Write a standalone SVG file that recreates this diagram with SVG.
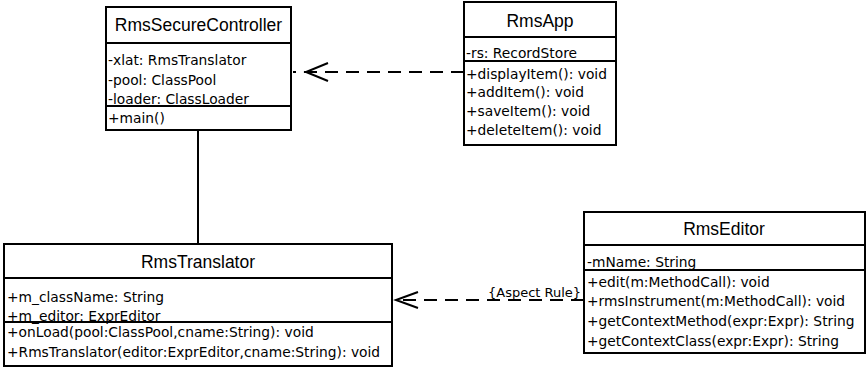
<svg xmlns="http://www.w3.org/2000/svg" width="866" height="369" viewBox="0 0 866 369">
<style>
.box{fill:#fff;stroke:#000;stroke-width:2}
.div{stroke:#000;stroke-width:2}
.title{font-family:"Liberation Sans",Arial,sans-serif;font-size:17.5px;text-anchor:middle;fill:#000}
.mem{font-family:"DejaVu Sans",sans-serif;font-size:13.8px;fill:#000}
.lbl{font-family:"DejaVu Sans",sans-serif;font-size:13px;fill:#000}
.dash{fill:none;stroke:#000;stroke-width:2;stroke-dasharray:13 8}
.solid{fill:none;stroke:#000;stroke-width:2}
.head{fill:none;stroke:#000;stroke-width:2}
</style>
<g id="connectors">
<line class="solid" x1="198" y1="130" x2="198" y2="244"/>
<line class="dash" x1="464" y1="72" x2="293" y2="72"/>
<polyline class="head" points="328,63 306,72 328,81"/>
<line class="dash" x1="584" y1="300" x2="395" y2="300"/>
<polyline class="head" points="418,292 396,300 418,308"/>
<text class="lbl" x="488" y="297">{Aspect Rule}</text>
</g>
<g id="RmsSecureController">
<rect class="box" x="106" y="7" width="185" height="123"/>
<line class="div" x1="106" y1="43" x2="291" y2="43"/>
<line class="div" x1="106" y1="106" x2="291" y2="106"/>
<text class="title" x="198.5" y="31">RmsSecureController</text>
<text class="mem" x="108" y="65">-xlat: RmsTranslator</text>
<text class="mem" x="108" y="85">-pool: ClassPool</text>
<text class="mem" x="108" y="104">-loader: ClassLoader</text>
<text class="mem" x="108" y="123">+main()</text>
</g>
<g id="RmsApp">
<rect class="box" x="464" y="2" width="152" height="143"/>
<line class="div" x1="464" y1="37" x2="616" y2="37"/>
<line class="div" x1="464" y1="61" x2="616" y2="61"/>
<text class="title" x="540" y="27">RmsApp</text>
<text class="mem" x="466" y="58">-rs: RecordStore</text>
<text class="mem" x="466" y="79">+displayItem(): void</text>
<text class="mem" x="466" y="97">+addItem(): void</text>
<text class="mem" x="466" y="116">+saveItem(): void</text>
<text class="mem" x="466" y="135">+deleteItem(): void</text>
</g>
<g id="RmsTranslator">
<rect class="box" x="4" y="244" width="388" height="122"/>
<line class="div" x1="4" y1="278" x2="392" y2="278"/>
<line class="div" x1="4" y1="322" x2="392" y2="322"/>
<text class="title" x="198" y="268">RmsTranslator</text>
<text class="mem" x="7" y="302">+m_className: String</text>
<text class="mem" x="7" y="321">+m_editor: ExprEditor</text>
<text class="mem" x="7" y="337">+onLoad(pool:ClassPool,cname:String): void</text>
<text class="mem" x="7" y="357">+RmsTranslator(editor:ExprEditor,cname:String): void</text>
</g>
<g id="RmsEditor">
<rect class="box" x="584" y="212" width="281" height="141"/>
<line class="div" x1="584" y1="245" x2="865" y2="245"/>
<line class="div" x1="584" y1="270" x2="865" y2="270"/>
<text class="title" x="724" y="235">RmsEditor</text>
<text class="mem" x="587" y="267">-mName: String</text>
<text class="mem" x="587" y="287">+edit(m:MethodCall): void</text>
<text class="mem" x="587" y="306">+rmsInstrument(m:MethodCall): void</text>
<text class="mem" x="587" y="326">+getContextMethod(expr:Expr): String</text>
<text class="mem" x="587" y="346">+getContextClass(expr:Expr): String</text>
</g>
</svg>
